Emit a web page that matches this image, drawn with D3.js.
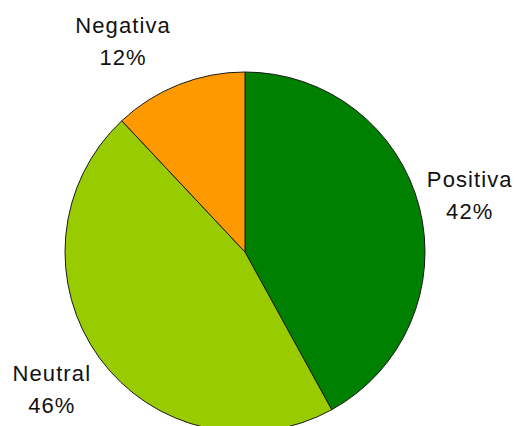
<!DOCTYPE html>
<html>
<head>
<meta charset="utf-8">
<script src="https://cdn.jsdelivr.net/npm/d3@7"></script>
<style>
  body { margin: 0; background: #fff; }
  text { font-family: Arial, "Liberation Sans", sans-serif; }
</style>
</head>
<body>
<div id="chart"></div>
<script>
// data
const categories = ['Positiva', 'Neutral', 'Negativa']
const values = [42, 46, 12]
const colors = ['#008000', '#99cc00', '#ff9900']
// label nudges from the arc point (excel-ish "best fit" placement)
const labelNudge = [[33, -16], [-33, 13], [-49, -35]]

const width = 518, height = 426
const radius = 180
const cx = 245, cy = 252

const svg = d3.select('#chart')
  .append('svg')
    .attr('width', width)
    .attr('height', height)

const g = svg.append('g')
  .attr('transform', `translate(${cx},${cy})`)

const data = categories.map((c, i) => ({name: c, value: values[i], color: colors[i], nudge: labelNudge[i]}))

const pie = d3.pie()
  .sort(null)
  .value(d => d.value)

const arc = d3.arc()
  .innerRadius(0)
  .outerRadius(radius)

// point just outside the pie where labels hang
const labelArc = d3.arc()
  .innerRadius(radius * 1.1)
  .outerRadius(radius * 1.1)

const arcs = pie(data)

g.selectAll('path')
  .data(arcs)
  .join('path')
    .attr('d', arc)
    .attr('fill', d => d.data.color)
    .attr('stroke', '#1a1a1a')
    .attr('stroke-width', 1)

const total = d3.sum(values)

const labels = g.selectAll('.label')
  .data(arcs)
  .join('text')
    .attr('class', 'label')
    .attr('text-anchor', 'middle')
    .attr('fill', '#111')
    .style('font-size', '22px')
    .style('letter-spacing', '1.1px')
    .attr('transform', d => {
      const [x, y] = labelArc.centroid(d)
      return `translate(${x + d.data.nudge[0]},${y + d.data.nudge[1]})`
    })

labels.append('tspan')
  .attr('x', 0)
  .attr('y', 0)
  .text(d => d.data.name)

labels.append('tspan')
  .attr('x', 0)
  .attr('y', 32)
  .text(d => Math.round(d.data.value / total * 100) + '%')
</script>
</body>
</html>
